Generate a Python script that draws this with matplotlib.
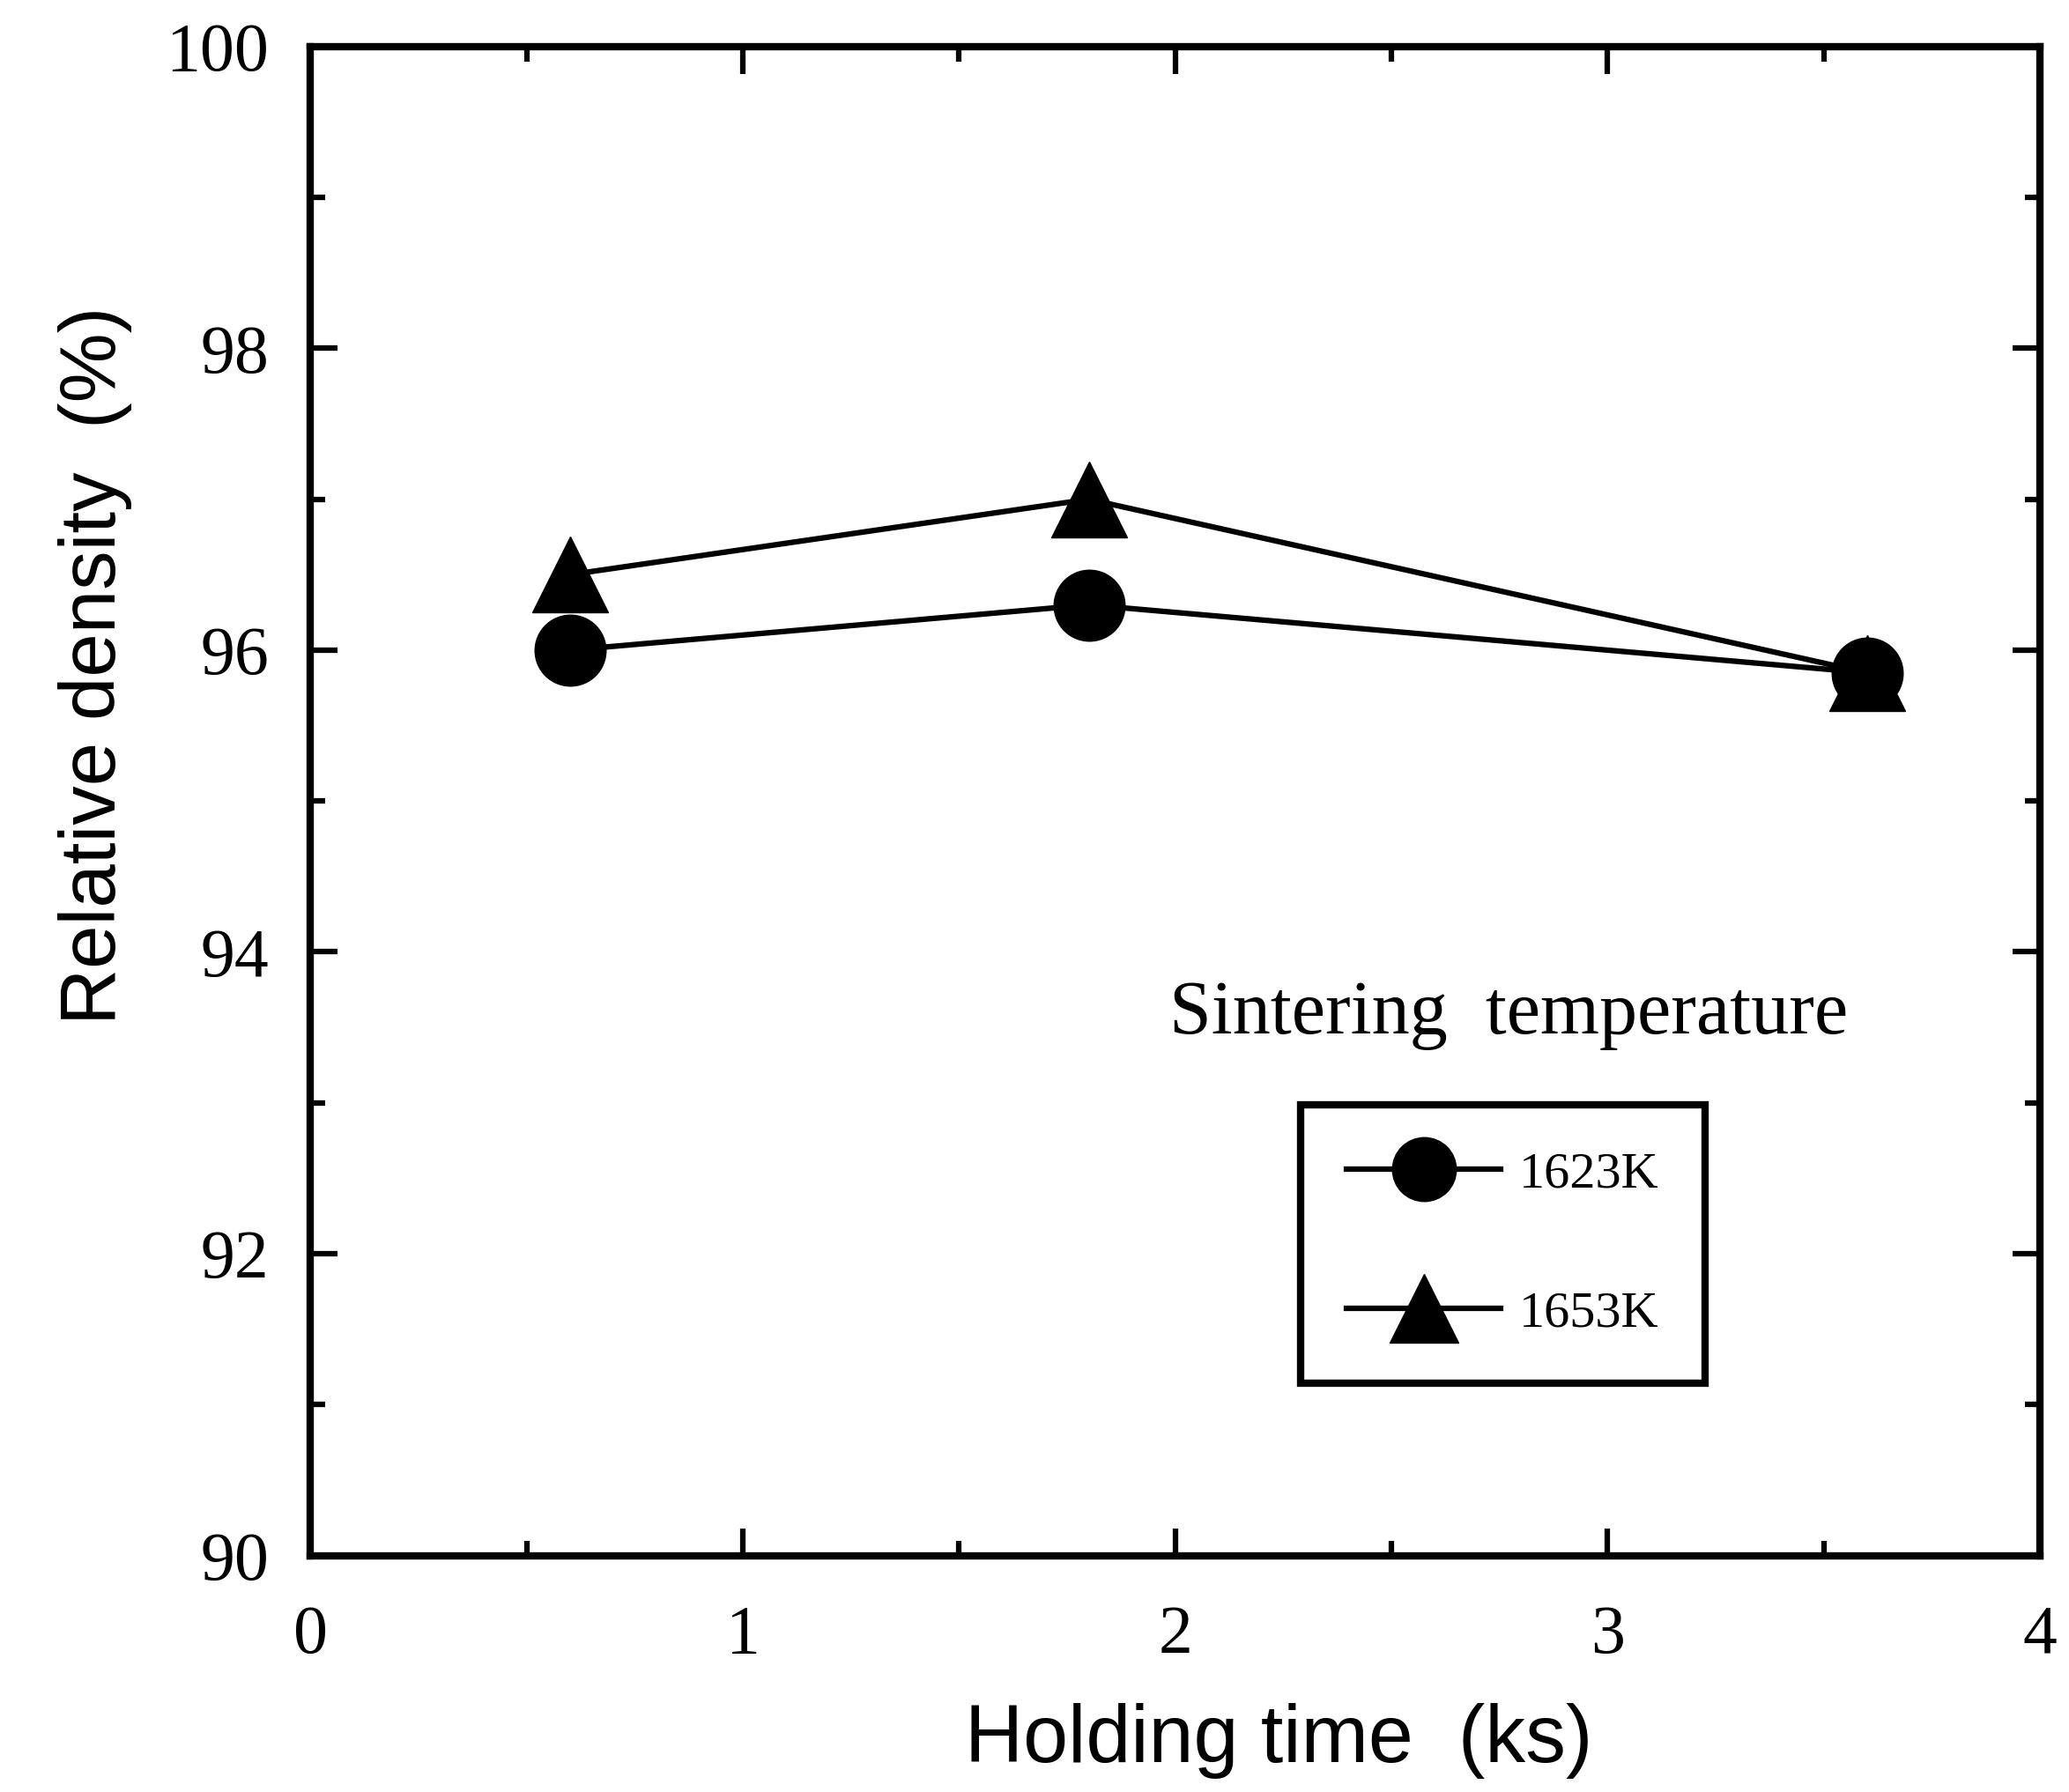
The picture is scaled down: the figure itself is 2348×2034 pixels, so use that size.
import matplotlib.pyplot as plt
from matplotlib.ticker import MultipleLocator

# holding time (ks) and relative density (%)
holding_time = [0.6, 1.8, 3.6]
density_1623 = [96.0, 96.3, 95.85]
density_1653 = [96.5, 97.0, 95.85]
labels = ['1623K', '1653K']

x_ticks = [0, 1, 2, 3, 4]
y_ticks = [90, 92, 94, 96, 98, 100]

serif = ['Liberation Serif', 'DejaVu Serif']
sans = ['Liberation Sans', 'DejaVu Sans']

fig = plt.figure(figsize=(23.48, 20.34), dpi=100)
ax = fig.add_axes([0.150, 0.132, 0.836, 0.842])

ax.plot(holding_time, density_1623, color='black', lw=4.5, marker='o',
        ms=58, label=labels[0], zorder=3)
ax.plot(holding_time, density_1653, color='black', lw=4.5, marker='^',
        ms=62, label=labels[1], zorder=3)

ax.set_xlim(0, 4)
ax.set_ylim(90, 100)
ax.set_xticks(x_ticks)
ax.set_yticks(y_ticks)
ax.xaxis.set_minor_locator(MultipleLocator(0.5))
ax.yaxis.set_minor_locator(MultipleLocator(1))
ax.tick_params(which='both', direction='in', top=True, right=True,
               width=4.5, colors='black')
ax.tick_params(which='major', length=22, labelsize=56)
ax.tick_params(axis='x', which='major', pad=40)
ax.tick_params(axis='y', which='major', pad=34)
ax.tick_params(which='minor', length=12)
for lab in ax.get_xticklabels() + ax.get_yticklabels():
    lab.set_family(serif)
for s in ax.spines.values():
    s.set_linewidth(6)

ax.set_ylabel('Relative density  (%)', fontsize=64, family=sans)
ax.yaxis.set_label_coords(-0.103, 0.59)
ax.set_xlabel('Holding time  (ks)', fontsize=66, family=sans)
ax.xaxis.set_label_coords(0.56, -0.098)

ax.text(0.693, 0.358, 'Sintering  temperature', transform=ax.transAxes,
        ha='center', va='center', fontsize=62, family=serif)

leg = ax.legend(loc='upper left', bbox_to_anchor=(0.5725, 0.2987),
                borderaxespad=0, prop={'family': serif, 'size': 42},
                frameon=True, fancybox=False, edgecolor='black',
                framealpha=1, handlelength=3.0, borderpad=0.9,
                labelspacing=1.8, handletextpad=0.35, markerscale=0.9)
leg.get_frame().set_linewidth(6)

fig.savefig('out.png', dpi=100)
